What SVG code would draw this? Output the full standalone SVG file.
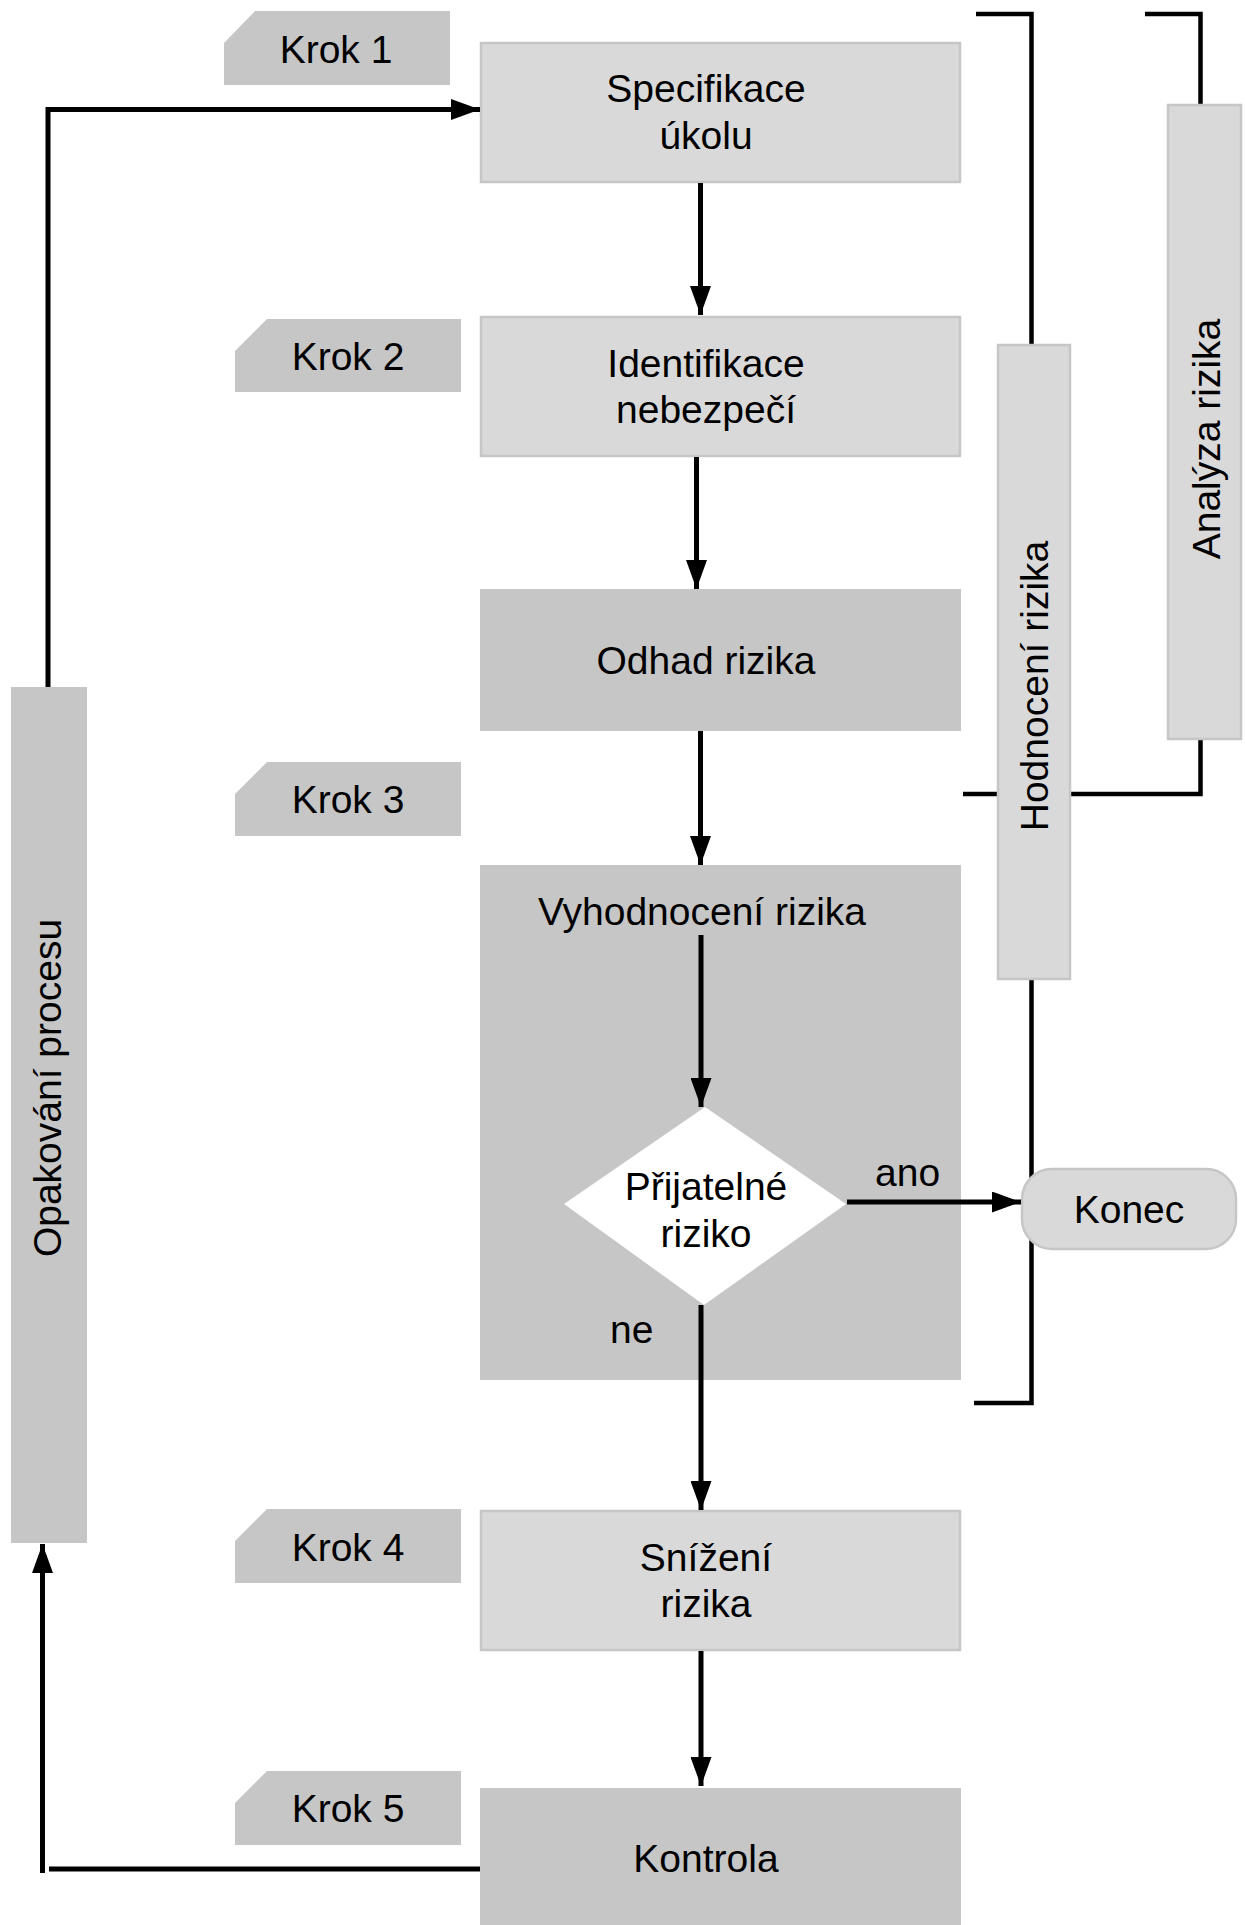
<svg xmlns="http://www.w3.org/2000/svg" width="1245" height="1925" viewBox="0 0 1245 1925">
<style>
  text { font-family: "Liberation Sans", Arial, sans-serif; font-size: 39px; fill: #000; }
  .c { text-anchor: middle; }
  .light { fill: #d9d9d9; stroke: #c6c6c6; stroke-width: 2.5; }
  .dark { fill: #c6c6c6; stroke: none; }
  .ln { fill: none; stroke: #000; stroke-width: 5; }
  .br { fill: none; stroke: #000; stroke-width: 4.5; }
</style>
<defs>
  <marker id="ah" viewBox="0 0 29 21" refX="29" refY="10.5" markerWidth="29" markerHeight="21" markerUnits="userSpaceOnUse" orient="auto">
    <path d="M0,0 L29,10.5 L0,21 Z" fill="#000"/>
  </marker>
</defs>
<rect width="1245" height="1925" fill="#fff"/>

<!-- bracket lines (behind bars) -->
<g id="brackets">
  <path class="br" d="M976,14 H1031.5 V1403 H974"/>
  <path class="br" d="M1145,14 H1200.5 V794 H963"/>
</g>

<!-- step tags -->
<g id="krok1"><path class="dark" d="M255,11 H450 V85 H224 V43 Z"/><text class="c" x="336" y="63">Krok 1</text></g>
<g id="krok2"><path class="dark" d="M267,319 H461 V392 H235 V351 Z"/><text class="c" x="348" y="370">Krok 2</text></g>
<g id="krok3"><path class="dark" d="M267,762 H461 V836 H235 V794 Z"/><text class="c" x="348" y="813">Krok 3</text></g>
<g id="krok4"><path class="dark" d="M267,1509 H461 V1583 H235 V1541 Z"/><text class="c" x="348" y="1561">Krok 4</text></g>
<g id="krok5"><path class="dark" d="M267,1771 H461 V1845 H235 V1803 Z"/><text class="c" x="348" y="1822">Krok 5</text></g>

<!-- main nodes -->
<g id="specifikace"><rect class="light" x="481" y="43" width="479" height="139"/><text class="c" x="706" y="102">Specifikace</text><text class="c" x="706" y="149">úkolu</text></g>
<g id="identifikace"><rect class="light" x="481" y="317" width="479" height="139"/><text class="c" x="706" y="377">Identifikace</text><text class="c" x="706" y="423">nebezpečí</text></g>
<g id="odhad"><rect class="dark" x="480" y="589" width="481" height="142"/><text class="c" x="706" y="674">Odhad rizika</text></g>
<g id="vyhodnoceni"><rect class="dark" x="480" y="865" width="481" height="515"/><text class="c" x="702" y="925">Vyhodnocení rizika</text></g>
<g id="prijatelne"><polygon points="705,1107 846,1204 704,1305 564,1204" fill="#fff"/><text class="c" x="706" y="1200">Přijatelné</text><text class="c" x="706" y="1247">riziko</text></g>
<g id="snizeni"><rect class="light" x="481" y="1511" width="479" height="139"/><text class="c" x="706" y="1571">Snížení</text><text class="c" x="706" y="1617">rizika</text></g>
<g id="kontrola"><rect class="dark" x="480" y="1788" width="481" height="137"/><text class="c" x="706" y="1872">Kontrola</text></g>
<g id="konec"><rect class="light" x="1022" y="1169" width="214" height="80" rx="30" ry="30"/><text class="c" x="1129" y="1223">Konec</text></g>

<!-- side bars -->
<g id="hodnoceni"><rect class="light" x="998" y="345" width="72" height="634"/><text class="c" transform="translate(1048,686) rotate(-90)">Hodnocení rizika</text></g>
<g id="analyza"><rect class="light" x="1168" y="105" width="73" height="634"/><text class="c" transform="translate(1220,439) rotate(-90)">Analýza rizika</text></g>
<g id="opakovani"><rect class="dark" x="11" y="687" width="76" height="856"/><text class="c" transform="translate(61,1088) rotate(-90)">Opakování procesu</text></g>

<!-- connectors -->
<g id="connectors">
  <line class="ln" x1="700.5" y1="183" x2="700.5" y2="315" marker-end="url(#ah)"/>
  <line class="ln" x1="696.5" y1="457" x2="696.5" y2="589" marker-end="url(#ah)"/>
  <line class="ln" x1="700.5" y1="731" x2="700.5" y2="865" marker-end="url(#ah)"/>
  <line class="ln" x1="701" y1="935" x2="701" y2="1107" marker-end="url(#ah)"/>
  <line class="ln" x1="701" y1="1305" x2="701" y2="1510" marker-end="url(#ah)"/>
  <line class="ln" x1="701" y1="1651" x2="701" y2="1786" marker-end="url(#ah)"/>
  <line class="ln" x1="847" y1="1202" x2="1021" y2="1202" marker-end="url(#ah)"/>
  <path class="ln" d="M48,687 V109.5 H480" marker-end="url(#ah)" stroke-linejoin="miter"/>
  <line class="ln" x1="42.5" y1="1873" x2="42.5" y2="1544" marker-end="url(#ah)"/>
  <line class="ln" x1="49" y1="1869" x2="480" y2="1869"/>
  <text x="875" y="1186">ano</text>
  <text x="610" y="1343">ne</text>
</g>
</svg>
